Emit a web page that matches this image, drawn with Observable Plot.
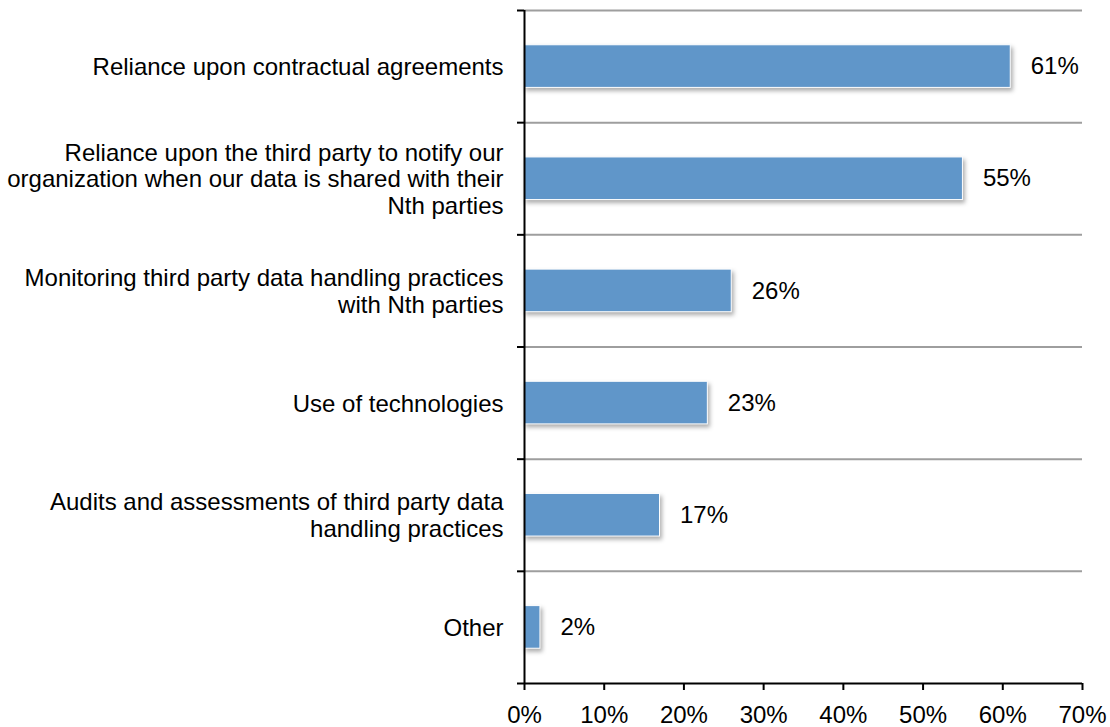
<!DOCTYPE html>
<html>
<head>
<meta charset="utf-8">
<script src="https://cdn.jsdelivr.net/npm/d3@7"></script>
<script src="https://cdn.jsdelivr.net/npm/@observablehq/plot@0.6"></script>
<style>
  html, body { margin: 0; padding: 0; background: #fff; }
  #chart svg { display: block; }
  .bars rect { filter: drop-shadow(2px 3px 2px rgba(0,0,0,0.32)); }
</style>
</head>
<body>
<div id="chart"></div>
<script>
const categories = [
  "Reliance upon contractual agreements",
  "Reliance upon the third party to notify our\norganization when our data is shared with their\nNth parties",
  "Monitoring third party data handling practices\nwith Nth parties",
  "Use of technologies",
  "Audits and assessments of third party data\nhandling practices",
  "Other"
];
const values = [61, 55, 26, 23, 17, 2];
const xTicks = [0, 10, 20, 30, 40, 50, 60, 70];

const data = categories.map((c, i) => ({category: c, value: values[i], i}));
const boundaries = d3.range(0, categories.length + 1);

const chart = Plot.plot({
  width: 1110,
  height: 727,
  marginLeft: 524,
  marginRight: 28,
  marginTop: 10,
  marginBottom: 44,
  style: {fontFamily: "'Liberation Sans', Arial, Helvetica, sans-serif", fontSize: "24px", color: "#000", background: "#fff"},
  x: {domain: [0, 70], axis: null},
  y: {domain: [0, categories.length], range: [10, 683], axis: null},
  marks: [
    Plot.ruleY(boundaries.slice(0, -1), {x1: 0, x2: 70, stroke: "#9e9e9e", strokeWidth: 2}),
    Plot.rectX(data, {
      x1: 0, x2: "value",
      y1: d => d.i + 0.31, y2: d => d.i + 0.69,
      fill: "#6096c9", stroke: "#ffffff", strokeWidth: 1,
      className: "bars"
    }),
    Plot.ruleX([0], {y1: 0, y2: categories.length, stroke: "#000", strokeWidth: 2}),
    Plot.ruleY([categories.length], {x1: 0, x2: 70, stroke: "#000", strokeWidth: 2}),
    Plot.axisY({ticks: boundaries, tickSize: 7, tickFormat: () => "", label: null, stroke: "#000", strokeWidth: 2}),
    Plot.axisX({ticks: xTicks, tickSize: 7, tickPadding: 15, tickFormat: d => d + "%", label: null, fontSize: 24, stroke: "#000", strokeWidth: 2}),
    Plot.text(data, {
      x: 0, y: d => d.i + 0.5, text: "category",
      textAnchor: "end", dx: -21, lineHeight: 1.11, fontSize: 24, fill: "#000"
    }),
    Plot.text(data, {
      x: "value", y: d => d.i + 0.5, text: d => d.value + "%",
      textAnchor: "start", dx: 20, fontSize: 24, fill: "#000"
    })
  ]
});
document.getElementById("chart").appendChild(chart);
</script>
</body>
</html>
